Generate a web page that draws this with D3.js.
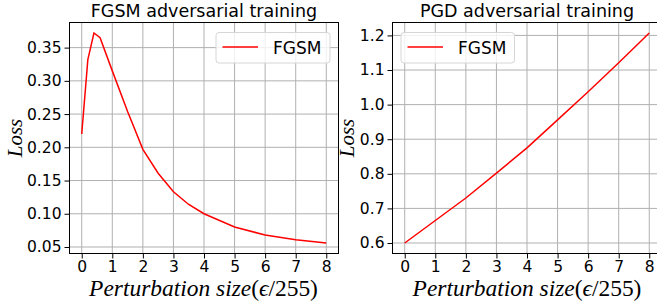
<!DOCTYPE html>
<html><head><meta charset="utf-8">
<script src="https://cdn.jsdelivr.net/npm/d3@7"></script>
<style>body{margin:0;background:#fff}svg{display:block}</style>
</head><body>
<svg id="c" width="657" height="304"></svg>
<script>
const xTicks = [0,1,2,3,4,5,6,7,8];
const fgsmX = [0,0.2,0.4,0.6,1,1.5,2,2.5,3,3.5,4,5,6,7,8];
const fgsmLoss = [0.220,0.332,0.372,0.365,0.315,0.254,0.197,0.161,0.133,0.114,0.100,0.080,0.068,0.061,0.056];
const leftYTicks = [0.05,0.10,0.15,0.20,0.25,0.30,0.35];
const pgdX = [0,1,2,3,4,5,6,7,8];
const pgdLoss = [0.600,0.665,0.730,0.802,0.875,0.956,1.037,1.121,1.207];
const rightYTicks = [0.6,0.7,0.8,0.9,1.0,1.1,1.2];
const titles = ["FGSM adversarial training","PGD adversarial training"];
const legendLabel = "FGSM";

const svg = d3.select("#c");
const font = "DejaVu Sans";

function panel(cfg){
  const {left,right,top,bottom,xs,ys,yTicks,yFmt,title,legendX,legendW,clipId,labelX,yLabelX} = cfg;
  const pad = v => { const e=d3.extent(v), s=(e[1]-e[0])*0.05; return [e[0]-s,e[1]+s]; };
  const x = d3.scaleLinear().domain(pad(xs)).range([left,right]);
  const y = d3.scaleLinear().domain(pad(ys)).range([bottom,top]);
  const g = svg.append("g");
  g.append("clipPath").attr("id",clipId).append("rect")
    .attr("x",left).attr("y",top).attr("width",right-left).attr("height",bottom-top);
  // grid
  g.append("g").selectAll("line").data(xTicks).join("line")
    .attr("x1",d=>x(d)).attr("x2",d=>x(d)).attr("y1",top).attr("y2",bottom)
    .attr("stroke","#b0b0b0").attr("stroke-width",1);
  g.append("g").selectAll("line").data(yTicks).join("line")
    .attr("y1",d=>y(d)).attr("y2",d=>y(d)).attr("x1",left).attr("x2",right)
    .attr("stroke","#b0b0b0").attr("stroke-width",1);
  // line
  g.append("path").datum(xs.map((d,i)=>[d,ys[i]]))
    .attr("clip-path",`url(#${clipId})`)
    .attr("d",d3.line().x(d=>x(d[0])).y(d=>y(d[1])))
    .attr("fill","none").attr("stroke","#ff0000").attr("stroke-width",1.5);
  // axes
  const ax = g.append("g").attr("transform",`translate(0,${bottom})`)
    .call(d3.axisBottom(x).tickValues(xTicks).tickSize(5).tickPadding(2).tickFormat(d3.format("d")));
  const ay = g.append("g").attr("transform",`translate(${left},0)`)
    .call(d3.axisLeft(y).tickValues(yTicks).tickSize(5).tickPadding(3).tickFormat(d3.format(yFmt)));
  [ax,ay].forEach(a=>{
    a.select(".domain").remove();
    a.selectAll("line").attr("stroke","#000").attr("stroke-width",1);
    a.selectAll("text").attr("font-family",font).attr("font-size",15.5).attr("fill","#000");
  });
  // spines
  g.append("rect").attr("x",left).attr("y",top).attr("width",right-left).attr("height",bottom-top)
    .attr("fill","none").attr("stroke","#000").attr("stroke-width",1);
  // title
  g.append("text").attr("x",(left+right)/2).attr("y",top-6).attr("text-anchor","middle")
    .attr("font-family",font).attr("font-size",17.5).text(title);
  // legend
  const lg = g.append("g");
  lg.append("rect").attr("x",legendX).attr("y",top+10).attr("width",legendW).attr("height",30.5)
    .attr("rx",3).attr("fill","#fff").attr("fill-opacity",0.8).attr("stroke","#d6d6d6");
  lg.append("line").attr("x1",legendX+6.5).attr("x2",legendX+42).attr("y1",top+24.5).attr("y2",top+24.5)
    .attr("stroke","#ff0000").attr("stroke-width",1.5);
  lg.append("text").attr("x",legendX+57).attr("y",top+31).attr("font-family",font).attr("font-size",17).text(legendLabel);
  // x label
  const xl = g.append("text").attr("x",labelX).attr("y",295.5).attr("text-anchor","middle")
    .attr("font-family","Liberation Serif").attr("font-size",20);
  xl.append("tspan").attr("font-style","italic").text("Perturbation size");
  xl.append("tspan").text("(");
  xl.append("tspan").attr("font-style","italic").text("ϵ");
  xl.append("tspan").text("/255)");
  const w = xl.node().getComputedTextLength();
  xl.attr("font-size",20*229/w);
  // y label
  g.append("text").attr("transform",`translate(${yLabelX},${(top+bottom)/2}) rotate(-90)`)
    .attr("text-anchor","middle").attr("font-family","Liberation Serif").attr("font-style","italic")
    .attr("font-size",21).text("Loss");
}

panel({left:69.5,right:338.5,top:22.5,bottom:253.5,xs:fgsmX,ys:fgsmLoss,yTicks:leftYTicks,yFmt:".2f",
  title:titles[0],legendX:216,legendW:114,clipId:"c1",labelX:203.5,yLabelX:22});
panel({left:392.5,right:661.5,top:22.5,bottom:253.5,xs:pgdX,ys:pgdLoss,yTicks:rightYTicks,yFmt:".1f",
  title:titles[1],legendX:401,legendW:113.5,clipId:"c2",labelX:527,yLabelX:354});
</script>
</body></html>
